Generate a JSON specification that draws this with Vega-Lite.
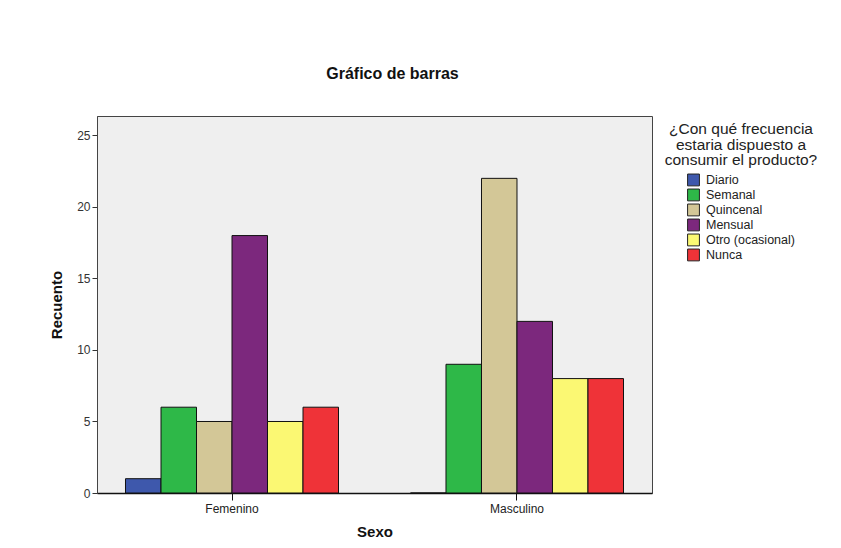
{
  "$schema": "https://vega.github.io/schema/vega-lite/v6.json",
  "autosize": {"type": "none"},
  "padding": {"left": 97, "top": 116, "right": 189, "bottom": 55},
  "width": 555,
  "height": 377,
  "background": "white",
  "title": {
    "text": "Gráfico de barras",
    "anchor": "middle",
    "dx": 18,
    "offset": 34,
    "font": "Liberation Sans",
    "fontSize": 16,
    "fontWeight": "bold",
    "color": "#111111"
  },
  "config": {
    "font": "Liberation Sans",
    "view": {"fill": "#efefef", "stroke": "#444444", "strokeWidth": 1}
  },
  "data": {
    "values": [
      {"sexo": "Femenino", "frecuencia": "Diario", "recuento": 1},
      {"sexo": "Femenino", "frecuencia": "Semanal", "recuento": 6},
      {"sexo": "Femenino", "frecuencia": "Quincenal", "recuento": 5},
      {"sexo": "Femenino", "frecuencia": "Mensual", "recuento": 18},
      {"sexo": "Femenino", "frecuencia": "Otro (ocasional)", "recuento": 5},
      {"sexo": "Femenino", "frecuencia": "Nunca", "recuento": 6},
      {"sexo": "Masculino", "frecuencia": "Diario", "recuento": 0},
      {"sexo": "Masculino", "frecuencia": "Semanal", "recuento": 9},
      {"sexo": "Masculino", "frecuencia": "Quincenal", "recuento": 22},
      {"sexo": "Masculino", "frecuencia": "Mensual", "recuento": 12},
      {"sexo": "Masculino", "frecuencia": "Otro (ocasional)", "recuento": 8},
      {"sexo": "Masculino", "frecuencia": "Nunca", "recuento": 8}
    ]
  },
  "mark": {"type": "bar", "stroke": "#111111", "strokeWidth": 1},
  "encoding": {
    "x": {
      "field": "sexo",
      "type": "nominal",
      "title": "Sexo",
      "scale": {"paddingInner": 0.2526, "paddingOuter": 0.1},
      "axis": {
        "labelAngle": 0,
        "labelFontSize": 12,
        "labelColor": "#222222",
        "labelPadding": 3,
        "tickSize": 7,
        "tickColor": "#111111",
        "domainColor": "#111111",
        "domainWidth": 1.5,
        "titleFontSize": 15,
        "titleFontWeight": "bold",
        "titleColor": "#111111",
        "titlePadding": 10
      }
    },
    "xOffset": {
      "field": "frecuencia",
      "type": "nominal",
      "sort": ["Diario", "Semanal", "Quincenal", "Mensual", "Otro (ocasional)", "Nunca"],
      "scale": {"paddingInner": 0, "paddingOuter": 0}
    },
    "y": {
      "field": "recuento",
      "type": "quantitative",
      "title": "Recuento",
      "scale": {"domain": [0, 26.36], "nice": false},
      "axis": {
        "values": [0, 5, 10, 15, 20, 25],
        "grid": false,
        "labelFontSize": 12,
        "labelColor": "#333333",
        "labelPadding": 2,
        "tickSize": 5,
        "tickColor": "#333333",
        "domainColor": "#444444",
        "titleFontSize": 15,
        "titleFontWeight": "bold",
        "titleColor": "#111111",
        "titlePadding": 12
      }
    },
    "color": {
      "field": "frecuencia",
      "type": "nominal",
      "sort": ["Diario", "Semanal", "Quincenal", "Mensual", "Otro (ocasional)", "Nunca"],
      "scale": {
        "domain": ["Diario", "Semanal", "Quincenal", "Mensual", "Otro (ocasional)", "Nunca"],
        "range": ["#3E58AC", "#2EB848", "#D3C797", "#7C287D", "#FBF873", "#EF3338"]
      },
      "legend": {
        "title": ["¿Con qué frecuencia", "estaria dispuesto a", "consumir el producto?"],
        "orient": "none",
        "legendX": 568,
        "legendY": 6,
        "titleFontSize": 15.5,
        "titleFontWeight": "normal",
        "titleColor": "#222222",
        "titleLineHeight": 15.5,
        "titleAlign": "center",
        "titleAnchor": "middle",
        "titlePadding": 4,
        "symbolType": "square",
        "symbolSize": 140,
        "symbolStrokeColor": "#222222",
        "symbolStrokeWidth": 1,
        "symbolOffset": 0,
        "labelFontSize": 12.5,
        "labelColor": "#222222",
        "labelOffset": 6,
        "clipHeight": 14.9,
        "rowPadding": 0
      }
    }
  }
}
